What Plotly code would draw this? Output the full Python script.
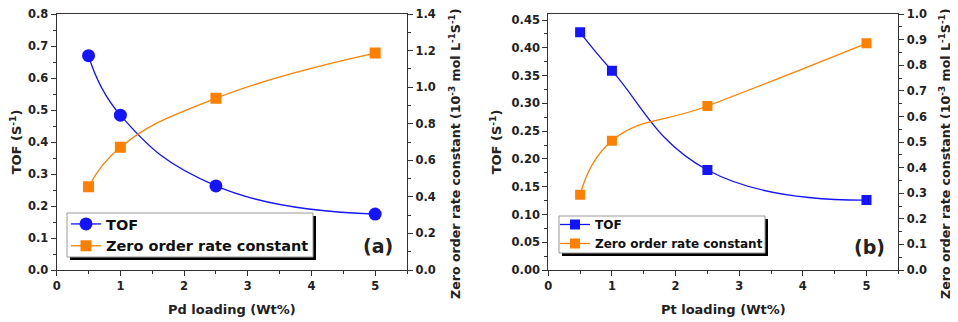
import plotly.graph_objects as go
from plotly.subplots import make_subplots

# Panel (a): Pd
pd_loading = [0.5, 1, 2.5, 5]
pd_tof = [0.67, 0.484, 0.263, 0.175]
pd_zero = [0.455, 0.672, 0.94, 1.187]

# Panel (b): Pt
pt_loading = [0.5, 1, 2.5, 5]
pt_tof = [0.428, 0.359, 0.18, 0.126]
pt_zero = [0.294, 0.505, 0.641, 0.886]

BLUE = "#1414ff"
ORANGE = "#ff8000"
FONT = "DejaVu Sans"

# page has an 8px body margin, so the figure is a bit smaller than the window
W, H = 950, 314
OFF = 8


def px(x):
    return (x - OFF) / W


def py(y):
    return 1 - (y - OFF) / H


fig = make_subplots(rows=1, cols=2,
                    specs=[[{"secondary_y": True}, {"secondary_y": True}]])


def line(c):
    return dict(color=c, width=1.3, shape="spline", smoothing=1.3)


# (a)
fig.add_trace(go.Scatter(x=pd_loading, y=pd_tof, name="TOF", mode="lines+markers",
                         line=line(BLUE),
                         marker=dict(symbol="circle", size=13, color=BLUE),
                         legend="legend"), row=1, col=1, secondary_y=False)
fig.add_trace(go.Scatter(x=pd_loading, y=pd_zero, name="Zero order rate constant",
                         mode="lines+markers", line=line(ORANGE),
                         marker=dict(symbol="square", size=11, color=ORANGE),
                         legend="legend"), row=1, col=1, secondary_y=True)
# (b)
fig.add_trace(go.Scatter(x=pt_loading, y=pt_tof, name="TOF", mode="lines+markers",
                         line=line(BLUE),
                         marker=dict(symbol="square", size=10, color=BLUE),
                         legend="legend2"), row=1, col=2, secondary_y=False)
fig.add_trace(go.Scatter(x=pt_loading, y=pt_zero, name="Zero order rate constant",
                         mode="lines+markers", line=line(ORANGE),
                         marker=dict(symbol="square", size=10, color=ORANGE),
                         legend="legend2"), row=1, col=2, secondary_y=True)

ydom = [py(270), py(14)]
dom_a = [px(56.7), px(407)]
dom_b = [px(548.3), px(898.3)]

tickfont = dict(family=FONT, size=11.5, color="#222", weight="bold")
titlefont = dict(family=FONT, size=13, color="#222", weight="bold")
common = dict(showline=True, linecolor="#333", linewidth=1.2, ticks="outside",
              ticklen=5, tickwidth=1.2, tickcolor="#333", showgrid=False,
              zeroline=False, tickfont=tickfont, automargin=False,
              ticklabeloverflow="allow")
RT = "Zero order rate constant (10<sup>-3</sup> mol L<sup>-1</sup>S<sup>-1</sup>)"
EPS = 1.0005  # keep the end tick label from being dropped by rounding


def minor(d):
    return dict(dtick=d, ticks="outside", ticklen=3, tickcolor="#333")


fig.update_layout(
    xaxis=dict(domain=dom_a, range=[0, 5.5], dtick=1, mirror=True, minor=minor(0.5),
               title=dict(text="Pd loading (Wt%)", font=titlefont, standoff=12),
               **common),
    yaxis=dict(domain=ydom, range=[0, 0.8 * EPS], dtick=0.1, tickformat=".1f", minor=minor(0.05),
               title=dict(text="TOF (S<sup>-1</sup>)", font=titlefont, standoff=6),
               **common),
    yaxis2=dict(range=[0, 1.4 * EPS], dtick=0.2, tickformat=".1f", minor=minor(0.1),
                **common),
    xaxis2=dict(domain=dom_b, range=[0, 5.5], dtick=1, mirror=True, minor=minor(0.5),
                title=dict(text="Pt loading (Wt%)", font=titlefont, standoff=12),
                **common),
    yaxis3=dict(domain=ydom, range=[0, 0.461], dtick=0.05, tickformat=".2f", minor=minor(0.025),
                title=dict(text="TOF (S<sup>-1</sup>)", font=titlefont, standoff=6),
                **common),
    yaxis4=dict(range=[0, 1.0 * EPS], dtick=0.1, tickformat=".1f", minor=minor(0.05),
                **common),
)

# right-hand axis titles
for xc in (455, 945):
    fig.add_annotation(x=px(xc), y=py(154), xref="paper", yref="paper", text=RT,
                       textangle=-90, showarrow=False, xanchor="center", yanchor="middle",
                       font=dict(family=FONT, size=12.6, color="#222", weight="bold"))

legend_common = dict(bgcolor="rgba(0,0,0,0)", borderwidth=0,
                     xanchor="left", yanchor="top", tracegroupgap=0,
                     itemwidth=30, traceorder="normal")
fig.update_layout(
    legend=dict(x=px(66), y=py(208),
                font=dict(family=FONT, size=14.5, color="#111", weight="bold"),
                **legend_common),
    legend2=dict(x=px(555), y=py(210),
                 font=dict(family=FONT, size=12, color="#111", weight="bold"),
                 **legend_common),
)

# legend boxes with shadows
for (x0, x1, y0, y1) in [(67, 313, 213, 257), (559, 765, 216, 253)]:
    fig.add_shape(type="rect", xref="paper", yref="paper", layer="below",
                  x0=px(x0 + 3), x1=px(x1 + 3), y0=py(y1 + 3), y1=py(y0 + 3),
                  fillcolor="black", line=dict(width=0))
    fig.add_shape(type="rect", xref="paper", yref="paper", layer="below",
                  x0=px(x0), x1=px(x1), y0=py(y1), y1=py(y0),
                  fillcolor="white", line=dict(width=1, color="#999"))

fig.add_annotation(x=5.05, y=0.075, xref="x", yref="y", text="<b>(a)</b>",
                   showarrow=False, font=dict(family=FONT, size=19, color="#222"))
fig.add_annotation(x=5.05, y=0.042, xref="x2", yref="y3", text="<b>(b)</b>",
                   showarrow=False, font=dict(family=FONT, size=19, color="#222"))

fig.update_layout(width=W, height=H, margin=dict(l=0, r=0, t=0, b=0),
                  plot_bgcolor="white", paper_bgcolor="white", showlegend=True)

fig.write_html("out.html")
